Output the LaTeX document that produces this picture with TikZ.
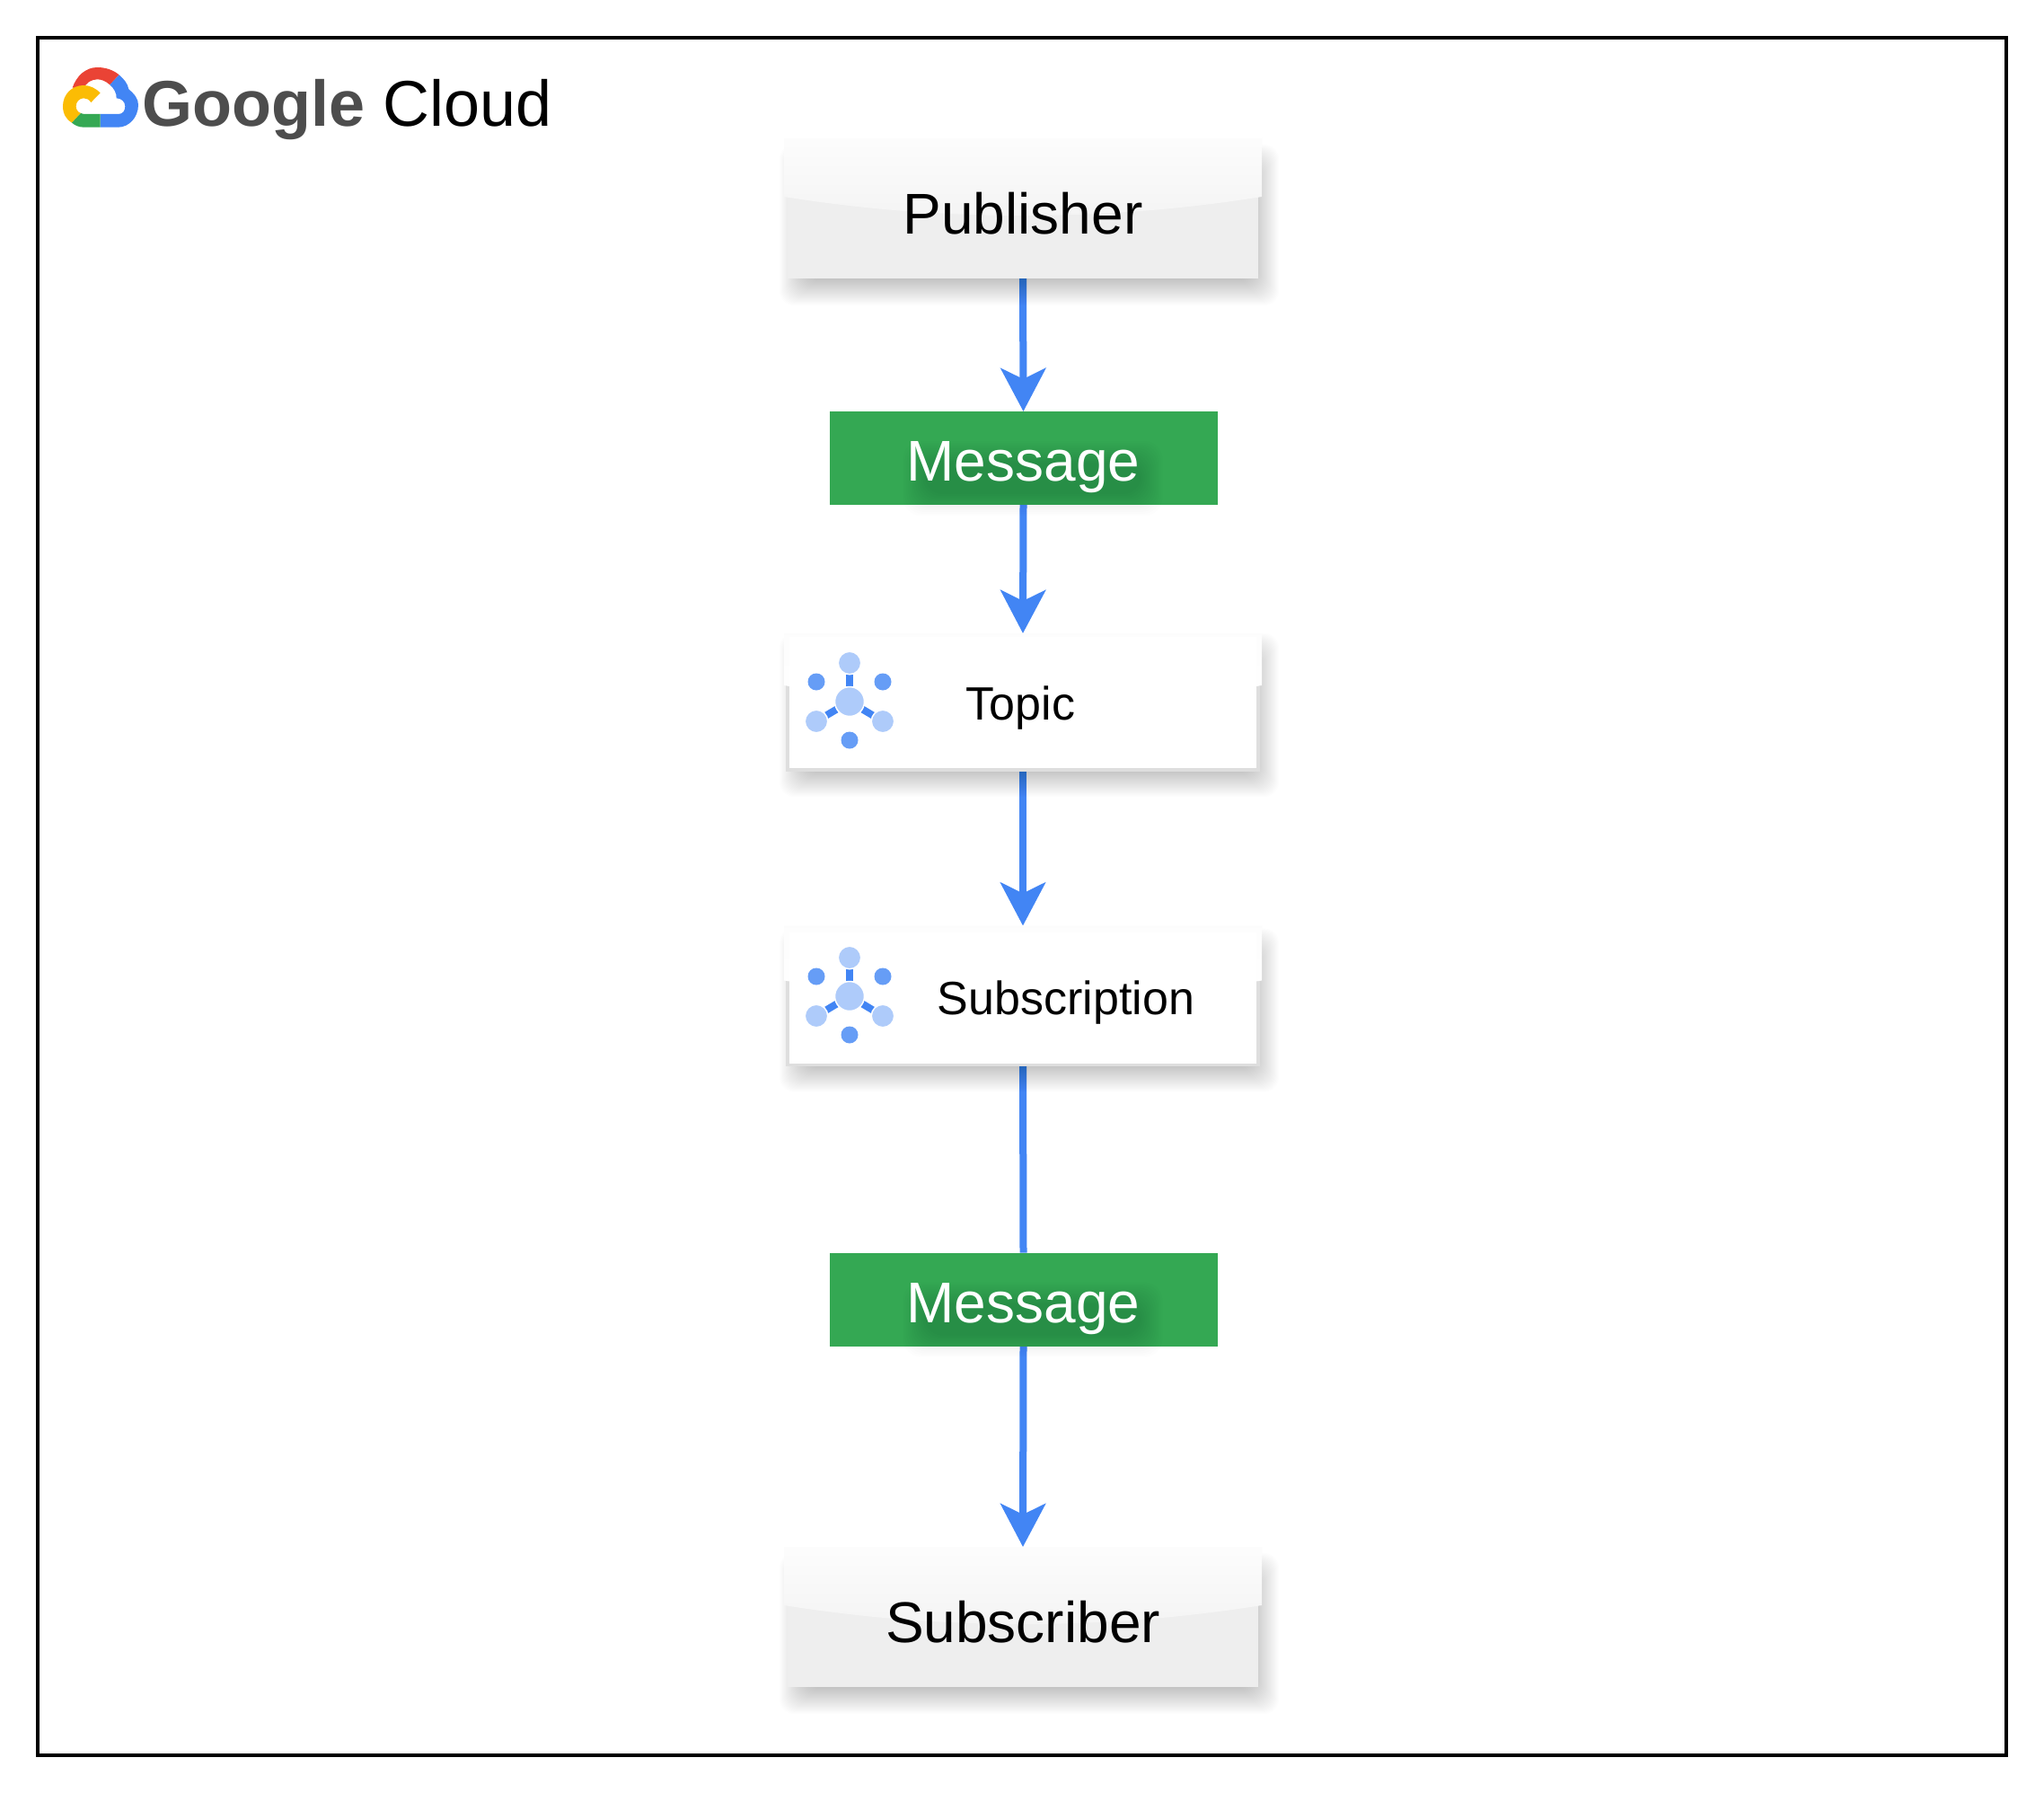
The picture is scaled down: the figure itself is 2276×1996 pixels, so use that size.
\documentclass[tikz,border=0pt]{standalone}
\usepackage{fontspec}
\setmainfont{Liberation Sans}
\usetikzlibrary{arrows.meta}
\definecolor{gblue}{HTML}{4285F4}
\definecolor{gred}{HTML}{EA4335}
\definecolor{gyellow}{HTML}{FBBC04}
\definecolor{ggreen}{HTML}{34A853}
\definecolor{iconlight}{HTML}{AECBFA}
\definecolor{icondark}{HTML}{669DF6}
\definecolor{cardgray}{HTML}{EEEEEE}
\definecolor{logogray}{HTML}{4D4D4D}
\pgfdeclarelayer{arrowlayer}
\pgfdeclarelayer{cardlayer}
\pgfdeclarelayer{spokelayer}
\pgfsetlayers{arrowlayer,cardlayer,spokelayer,main}
\tikzset{
  card/.style={rectangle,minimum width=524pt,minimum height=147pt,inner sep=0pt,outer sep=0pt},
  whitebox/.style={card,minimum height=150pt},
  bigtext/.style={font=\fontsize{64}{70}\selectfont,text=black,text height=47pt,text depth=0pt},
  smalltext/.style={font=\fontsize{52}{56}\selectfont,text=black,inner sep=0pt,anchor=base},
  msgbox/.style={rectangle,minimum width=432pt,minimum height=104pt,inner sep=0pt,outer sep=0pt,
    font=\fontsize{64}{70}\selectfont,text=white,text height=58pt,text depth=7pt},
  flow/.style={draw=gblue,line width=8pt,-{Stealth[length=48pt,width=50pt,inset=12pt]}},
  flowplain/.style={draw=gblue,line width=8pt},
  dotlight/.style={circle,fill=iconlight,draw=white,line width=1.5pt,minimum size=25.5pt,inner sep=0pt,outer sep=0pt},
  dotcore/.style={circle,fill=iconlight,draw=white,line width=1.5pt,minimum size=33pt,inner sep=0pt,outer sep=0pt},
  dotdark/.style={circle,fill=icondark,minimum size=19pt,inner sep=0pt,outer sep=0pt},
  spoke/.style={draw=gblue,line width=8pt},
}
% soft shadow under a card, from the corners of the named node
\newcommand{\softshadow}[1]{%
  \foreach \e in {-16,-15,...,16}{
    \fill[black,opacity=0.0095,rounded corners=16pt]
      ([xshift=7pt-\e pt,yshift=-14pt-\e pt]#1.south west) rectangle
      ([xshift=7pt+\e pt,yshift=-14pt+\e pt]#1.north east);
  }}
% gloss on the upper part of a card: name, top colour, bottom colour, rise above the card
\newcommand{\gloss}[4]{%
  \shade[top color=#2,bottom color=#3]
    ([xshift=-4pt,yshift=#4pt]#1.north west) --
    ([xshift=4pt,yshift=#4pt]#1.north east) --
    ([xshift=4pt,yshift=-56pt]#1.north east)
    .. controls ([xshift=-170pt,yshift=-84pt]#1.north east)
       and ([xshift=170pt,yshift=-84pt]#1.north west) ..
    ([xshift=-4pt,yshift=-56pt]#1.north west) -- cycle;}
\newcommand{\graycard}[1]{%
  \softshadow{#1}
  \fill[cardgray] (#1.south west) rectangle (#1.north east);
  \gloss{#1}{white!85!cardgray}{white!32!cardgray}{9}}
\newcommand{\whitecard}[2]{%
  \softshadow{#1}
  \fill[white,draw=black!13,line width=3.5pt] (#1.south west) rectangle (#1.north east);
  \gloss{#1}{white!99!black}{white}{#2}
  \fill[white] ([xshift=2pt,yshift=-2pt]#1.north west) rectangle ([xshift=-2pt,yshift=2pt]#1.south east);}
\newcommand{\msgfill}[1]{%
  \fill[ggreen] (#1.south west) rectangle (#1.north east);
  \foreach \e in {0,2,...,24}{
    \fill[black,opacity=0.007,rounded corners=20pt]
      ([xshift=106pt-\e pt,yshift=-57pt+\e pt]#1.north west) rectangle
      ([xshift=-85pt+\e pt,yshift=12pt-\e pt]#1.south east);
  }}
\begin{document}
\begin{tikzpicture}[x=1pt,y=-1pt]
\useasboundingbox (0,0) rectangle (2276,1996);
\begin{pgfonlayer}{arrowlayer}
\fill[white] (0,0) rectangle (2276,1996);
\end{pgfonlayer}
\node[rectangle,draw=black,line width=4pt,minimum width=2192pt,minimum height=1912pt,inner sep=0pt] (frame) at (1138,998) {};

% logo
\begin{scope}[shift={(60,65)},x=0.3333pt,y=-0.3333pt]
  \fill[gred] (62,98) .. controls (75,60) and (105,30) .. (145,30) .. controls (175,30) and (200,40) .. (218,55)
     -- (187,88) .. controls (172,75) and (158,70) .. (145,70) .. controls (125,70) and (107,82) .. (100,100) -- cycle;
  \fill[gblue] (218,55) .. controls (235,70) and (247,85) .. (250,103) .. controls (270,120) and (282,135) .. (282,155)
     .. controls (282,198) and (250,230) .. (215,230) -- (155,230) -- (155,186) -- (215,186)
     .. controls (230,186) and (238,175) .. (238,160) .. controls (238,145) and (225,133) .. (209,133)
     .. controls (210,115) and (200,100) .. (187,88) -- cycle;
  \fill[gyellow] (155,115) .. controls (140,100) and (120,90) .. (100,90) .. controls (60,90) and (30,120) .. (30,160)
     .. controls (30,185) and (42,205) .. (60,215) -- (90,183) .. controls (80,180) and (74,170) .. (74,160)
     .. controls (74,145) and (85,133) .. (100,133) .. controls (110,133) and (118,138) .. (124,147) -- cycle;
  \fill[ggreen] (60,215) -- (90,183) .. controls (93,185) and (97,186) .. (100,186) -- (155,186) -- (155,230)
     -- (100,230) .. controls (85,230) and (72,225) .. (60,215) -- cycle;
\end{scope}
\node[anchor=base west,inner sep=0pt,font=\fontsize{72}{78}\selectfont] (logotext) at (158,141)
  {\textcolor{logogray}{\bfseries Google} Cloud};

% cards and messages
\node[card,bigtext] (pub) at (1139,236.5) {Publisher};
\node[msgbox] (msga) at (1139.5,510) {Message};
\node[whitebox] (topic) at (1139,782) {};
\node[whitebox] (subn) at (1139,1110.5) {};
\node[msgbox] (msgb) at (1139.5,1446.5) {Message};
\node[card,bigtext] (subr) at (1139,1804.5) {Subscriber};

\node[smalltext] (topiclabel) at (1136.5,801) {Topic};
\node[smalltext] (subnlabel) at (1187,1129) {Subscription};

% icons
\foreach \nm/\cy in {ta/781,sa/1109}{
  \node[dotcore] (\nm c) at (946,\cy) {};
  \node[dotlight] (\nm t) at (946,\cy-43) {};
  \node[dotlight] (\nm l) at (909,\cy+22) {};
  \node[dotlight] (\nm r) at (983,\cy+22) {};
  \node[dotdark] (\nm x) at (909,\cy-22) {};
  \node[dotdark] (\nm y) at (983,\cy-22) {};
  \node[dotdark] (\nm z) at (946,\cy+43) {};
  \begin{pgfonlayer}{spokelayer}
  \draw[spoke] (\nm c.center) -- (\nm t.center);
  \draw[spoke] (\nm c.center) -- (\nm l.center);
  \draw[spoke] (\nm c.center) -- (\nm r.center);
  \end{pgfonlayer}
}

\begin{pgfonlayer}{cardlayer}
  \graycard{pub}
  \graycard{subr}
  \whitecard{topic}{2}
  \whitecard{subn}{5}
  \msgfill{msga}
  \msgfill{msgb}
\end{pgfonlayer}

\begin{pgfonlayer}{arrowlayer}
  \draw[flow] (pub.south) -- (msga.north);
  \draw[flow] (msga.south) -- ([yshift=2pt]topic.north);
  \draw[flow] (topic.south) -- ([yshift=5pt]subn.north);
  \draw[flowplain] (subn.south) -- (msgb.north);
  \draw[flow] (msgb.south) -- ([yshift=9pt]subr.north);
\end{pgfonlayer}
\end{tikzpicture}
\end{document}
